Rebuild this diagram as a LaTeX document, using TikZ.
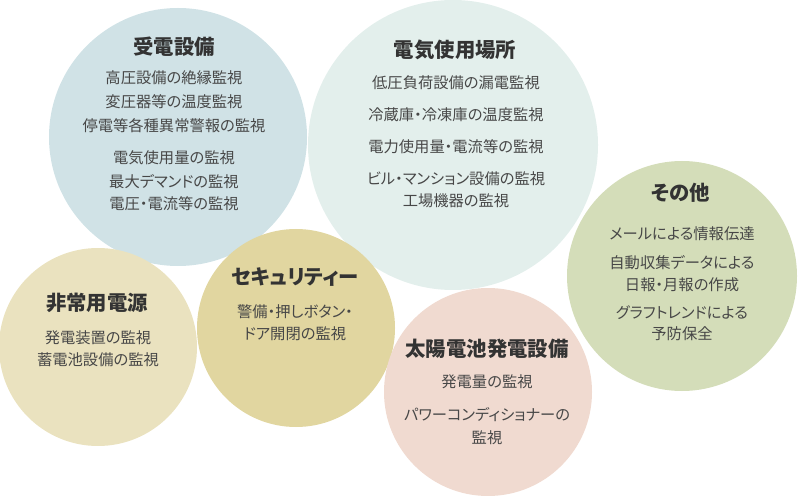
\documentclass[tikz,border=0pt]{standalone}
\usepackage{fontspec}
\setmainfont[RawFeature=+palt]{Noto Sans CJK JP}
\definecolor{bgJuden}{HTML}{D0E2E6}
\definecolor{bgDenki}{HTML}{E3EFEC}
\definecolor{bgSonota}{HTML}{D4DDB9}
\definecolor{bgHijou}{HTML}{EAE2BF}
\definecolor{bgSecu}{HTML}{E1D6A0}
\definecolor{bgTaiyou}{HTML}{F0DAD0}
\begin{document}
\begin{tikzpicture}[
  x=0.02cm, y=-0.02cm,
  bubble/.style={
    circle, inner sep=0pt, draw=none
  },
  judul/.style={font=\fontsize{11.6}{13}\selectfont\bfseries, text=black!80},
  isi/.style={font=\fontsize{8.7}{10}\selectfont, text=black!72}
]
\useasboundingbox (0,0) rectangle (800,496);

% ================= LINGKARAN =================
\node[bubble, fill=bgJuden,  minimum size=258*0.02cm] (juden)  at (178,137) {};
\node[bubble, fill=bgDenki,  minimum size=290*0.02cm] (denki)  at (453,145) {};
\node[bubble, fill=bgSonota, minimum size=230*0.02cm] (sonota) at (682,276) {};
\node[bubble, fill=bgHijou,  minimum size=198*0.02cm] (hijou)  at (98,347) {};
\node[bubble, fill=bgSecu,   minimum size=198*0.02cm] (secu)   at (296,328) {};
\node[bubble, fill=bgTaiyou, minimum size=208*0.02cm] (taiyou) at (488,392) {};

% ================= 受電設備 =================
\node[judul] (juden-t) at (174,47) {受電設備};
\foreach \i/\y/\txt in {
  1/78/高圧設備の絶縁監視, 2/102/変圧器等の温度監視, 3/126/停電等各種異常警報の監視,
  4/158/電気使用量の監視, 5/182/最大デマンドの監視, 6/204/電圧・電流等の監視}
{
  \node[isi] (juden-\i) at (174,\y) {\txt};
}

% ================= 電気使用場所 =================
\node[judul] (denki-t) at (455,50) {電気使用場所};
\foreach \i/\y/\txt in {
  1/83/低圧負荷設備の漏電監視, 2/115/冷蔵庫・冷凍庫の温度監視,
  3/147/電力使用量・電流等の監視, 4/179/ビル・マンション設備の監視,
  5/201/工場機器の監視}
{
  \node[isi] (denki-\i) at (456,\y) {\txt};
}

% ================= その他 =================
\node[judul] (sonota-t) at (681,193) {その他};
\foreach \i/\y/\txt in {
  1/234/メールによる情報伝達, 2/263/自動収集データによる, 3/285/日報・月報の作成,
  4/313/グラフトレンドによる, 5/334/予防保全}
{
  \node[isi] (sonota-\i) at (682,\y) {\txt};
}

% ================= 非常用電源 =================
\node[judul] (hijou-t) at (97,303) {非常用電源};
\node[isi] (hijou-1) at (98,338) {発電装置の監視};
\node[isi] (hijou-2) at (98,360) {蓄電池設備の監視};

% ================= セキュリティー =================
\node[judul] (secu-t) at (295,277) {セキュリティー};
\node[isi] (secu-1) at (295,312) {警備・押しボタン・};
\node[isi] (secu-2) at (295,334) {ドア開閉の監視};

% ================= 太陽電池発電設備 =================
\node[judul] (taiyou-t) at (487,349) {太陽電池発電設備};
\node[isi] (taiyou-1) at (487,382) {発電量の監視};
\node[isi] (taiyou-2) at (487,415) {パワーコンディショナーの};
\node[isi] (taiyou-3) at (487,438) {監視};

\end{tikzpicture}
\end{document}
